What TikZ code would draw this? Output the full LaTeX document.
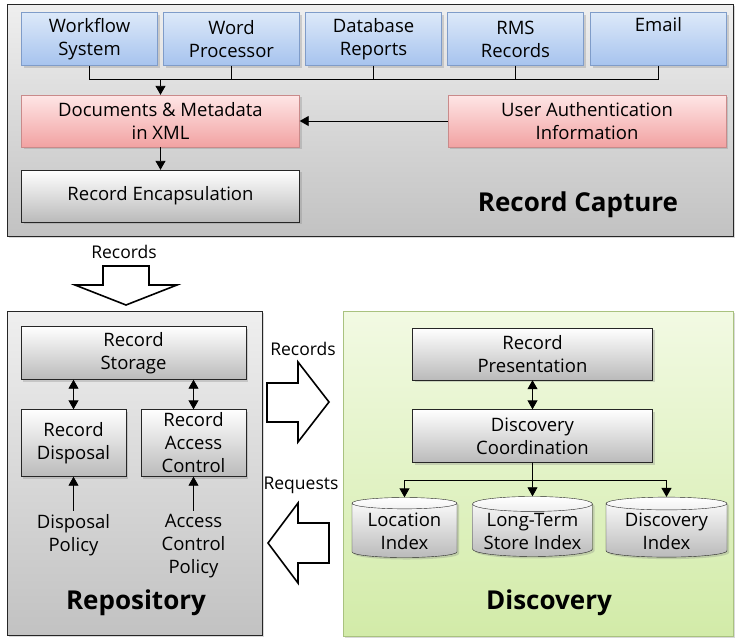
\documentclass[tikz,border=0pt]{standalone}
\usepackage{fontspec}
\setmainfont{Open Sans}
\usetikzlibrary{arrows.meta, shapes.geometric, shadows}
\definecolor{srctop}{HTML}{DDE9F9}
\definecolor{srcbot}{HTML}{A6C3EE}
\definecolor{srcline}{HTML}{7F9CC9}
\definecolor{xmltop}{HTML}{FEE6E6}
\definecolor{xmlbot}{HTML}{F2A2A2}
\definecolor{xmlline}{HTML}{C98A8A}
\definecolor{paneltop}{HTML}{EFEFEF}
\definecolor{panelbot}{HTML}{C2C2C2}
\definecolor{disctop}{HTML}{F2FAE3}
\definecolor{discbot}{HTML}{D2EBA8}
\definecolor{discline}{HTML}{A9C27F}

\begin{document}
\begin{tikzpicture}[x=1pt,y=-1pt,
  font=\fontsize{18.5}{23}\selectfont,
  shade/.style={drop shadow={shadow xshift=2pt,shadow yshift=-2pt,opacity=0.3}},
  panel/.style={draw=black!85,top color=paneltop,bottom color=panelbot,shade},
  box/.style={draw=black!85,align=center,inner sep=1pt,top color=white,bottom color=black!27,shade},
  srcbox/.style={box,draw=srcline,top color=srctop,bottom color=srcbot,minimum width=136pt,minimum height=53pt},
  xmlbox/.style={box,draw=xmlline,top color=xmltop,bottom color=xmlbot,minimum width=278pt,minimum height=52pt},
  store/.style={box,cylinder,shape border rotate=90,aspect=0.15,minimum height=60pt},
  title/.style={font=\fontsize{26}{30}\selectfont\bfseries},
  tag/.style={font=\fontsize{17.5}{21}\selectfont},
  conn/.style={line width=0.9pt,-{Triangle[length=9pt,width=10pt]}},
  bothconn/.style={line width=0.9pt,{Triangle[length=9pt,width=10pt]}-{Triangle[length=9pt,width=10pt]}},
  hollow/.style={draw=black,fill=white,line width=1.6pt,line join=miter}
]
\useasboundingbox (0,0) rectangle (740,643);

% panels
\node at (370,120) [panel,minimum width=726pt,minimum height=232pt](capture){};
\node at (134.5,473) [panel,minimum width=255pt,minimum height=324pt](repo){};
\node at (538,473.5) [panel,draw=discline,top color=disctop,bottom color=discbot,minimum width=390pt,minimum height=325pt](disc){};

% record capture
\node at (89.5,39) [srcbox](wfsys){Workflow\\System};
\node at (231.5,39) [srcbox](wordproc){Word\\Processor};
\node at (373.5,39) [srcbox](dbrep){Database\\Reports};
\node at (515.5,39) [srcbox](rmsrec){RMS\\Records};
\node at (658.5,39) [srcbox](email){Email\\\strut};
\node at (160.5,121) [xmlbox](docxml){Documents \& Metadata\\in XML};
\node at (587,121) [xmlbox](userauth){User Authentication\\Information};
\node at (160.5,196) [box,minimum width=278pt,minimum height=52pt](encap){Record Encapsulation};
\node at (578,205) [title](capturetitle){Record Capture};

\draw[line width=0.9pt] (wfsys.south) -- ++(0,13.5) -| (email.south);
\draw[line width=0.9pt] (wordproc.south) -- ++(0,13.5);
\draw[line width=0.9pt] (dbrep.south) -- ++(0,13.5);
\draw[line width=0.9pt] (rmsrec.south) -- ++(0,13.5);
\coordinate (bus) at (160.5,79);
\draw[conn] (bus) -- (docxml.north);
\draw[conn] (userauth.west) -- (docxml.east);
\draw[conn] (docxml.south) -- (encap.north);

% records into repository
\node at (124,252) [tag](recin){Records};
\draw[hollow] (103,266) -- (149,266) -- (149,285) -- (177,285) -- (126,305)
  -- (75,285) -- (103,285) -- cycle;

% repository
\node at (133.5,353) [box,minimum width=225pt,minimum height=53pt](storage){Record\\Storage};
\node at (73.5,443) [box,minimum width=105pt,minimum height=67pt](disposal){Record\\Disposal};
\node at (193.5,443) [box,minimum width=105pt,minimum height=67pt](access){Record\\Access\\Control};
\node at (73.5,535) [align=center](dpolicy){Disposal\\Policy};
\node at (193.5,546) [align=center](acpolicy){Access\\Control\\Policy};
\node at (136,603) [title](repotitle){Repository};

\draw[bothconn] (storage.south -| disposal.north) -- (disposal.north);
\draw[bothconn] (storage.south -| access.north) -- (access.north);
\draw[conn] (dpolicy.north) -- (disposal.south);
\draw[conn] (acpolicy.north) -- (access.south);

% between repository and discovery
\node at (303,349) [tag](recout){Records};
\draw[hollow] (267,383) -- (298,383) -- (298,362) -- (329,402) -- (298,442)
  -- (298,422) -- (267,422) -- cycle;
\node at (301,485) [tag](reqs){Requests};
\draw[hollow] (329,523) -- (298,523) -- (298,503) -- (268,543) -- (298,583)
  -- (298,563) -- (329,563) -- cycle;

% discovery
\node at (532.5,354) [box,minimum width=240pt,minimum height=52pt](present){Record\\Presentation};
\node at (532.5,436) [box,minimum width=240pt,minimum height=53pt](coord){Discovery\\Coordination};
\node at (404.5,531) [store,minimum width=105pt](locidx){Location\\Index};
\node at (532.5,531) [store,minimum width=120pt](ltidx){Long-Term\\Store Index};
\node at (666.5,531) [store,minimum width=121pt](discidx){Discovery\\Index};
\node at (549,603) [title](disctitle){Discovery};

\draw[bothconn] (present.south) -- (coord.north);
\draw[conn] (coord.south) -- (ltidx.north);
\coordinate (fork) at (532.5,480.5);
\draw[conn] (fork) -| (locidx.north);
\draw[conn] (fork) -| (discidx.north);
\end{tikzpicture}
\end{document}
